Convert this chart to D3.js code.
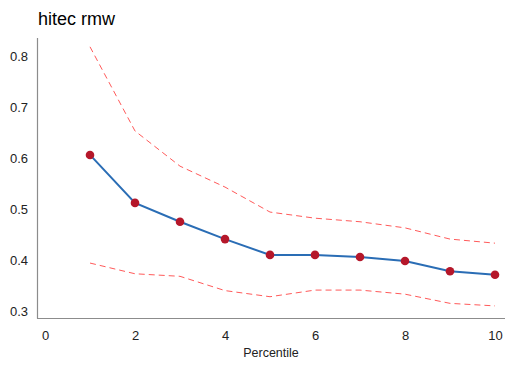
<!DOCTYPE html>
<html><head><meta charset="utf-8">
<script src="https://cdn.jsdelivr.net/npm/d3@7"></script>
<style>body{margin:0;background:#fff}svg{display:block}text{font-family:"Liberation Sans",Arial,sans-serif}</style>
</head><body><svg id="c" width="505" height="366"></svg>
<script>
const percentiles = [1,2,3,4,5,6,7,8,9,10];
const estimate = [0.606,0.512,0.475,0.441,0.410,0.410,0.406,0.398,0.378,0.371];
const upper = [0.818,0.653,0.584,0.543,0.494,0.482,0.475,0.463,0.441,0.433];
const lower = [0.394,0.373,0.368,0.340,0.328,0.341,0.341,0.333,0.315,0.310];
const xTicks = [0,2,4,6,8,10];
const yTicks = [0.3,0.4,0.5,0.6,0.7,0.8];

const svg = d3.select("#c");
const x = d3.scaleLinear().domain([0,10]).range([45,495]);
const y = d3.scaleLinear().domain([0.3,0.8]).range([311,56]);

svg.append("text").attr("x",38).attr("y",25).attr("font-size",18).attr("fill","#000").text("hitec rmw");

// axes lines
svg.append("line").attr("x1",37.5).attr("x2",37.5).attr("y1",38).attr("y2",318.5).attr("stroke","#8c8c8c").attr("stroke-width",1.2);
svg.append("line").attr("x1",37).attr("x2",505).attr("y1",318.5).attr("y2",318.5).attr("stroke","#8c8c8c").attr("stroke-width",1.2);

const yAxis = d3.axisLeft(y).tickValues(yTicks).tickSize(0).tickPadding(9).tickFormat(d3.format(".1f"));
const gy = svg.append("g").attr("transform","translate(37,0)").call(yAxis);
gy.select(".domain").remove();
gy.selectAll("text").attr("font-size",13).attr("fill","#222").style("font-family","'Liberation Sans',Arial,sans-serif");

const xAxis = d3.axisBottom(x).tickValues(xTicks).tickSize(0).tickPadding(13);
const gx = svg.append("g").attr("transform","translate(0,318)").call(xAxis);
gx.select(".domain").remove();
gx.selectAll("text").attr("font-size",13).attr("fill","#222").style("font-family","'Liberation Sans',Arial,sans-serif");

svg.append("text").attr("x",271).attr("y",357).attr("text-anchor","middle").attr("font-size",12.5).attr("fill","#222").text("Percentile");

const line = (vals) => d3.line().x((d,i)=>x(percentiles[i])).y(d=>y(d))(vals);

[upper,lower].forEach(v=>{
  svg.append("path").attr("d",line(v)).attr("fill","none").attr("stroke","#ff5a5a").attr("stroke-width",1).attr("stroke-dasharray","6,4");
});
svg.append("path").attr("d",line(estimate)).attr("fill","none").attr("stroke","#2a6db5").attr("stroke-width",2);
svg.selectAll("circle.p").data(estimate).enter().append("circle")
  .attr("cx",(d,i)=>x(percentiles[i])).attr("cy",d=>y(d)).attr("r",4.3).attr("fill","#b5172a");
</script></body></html>
